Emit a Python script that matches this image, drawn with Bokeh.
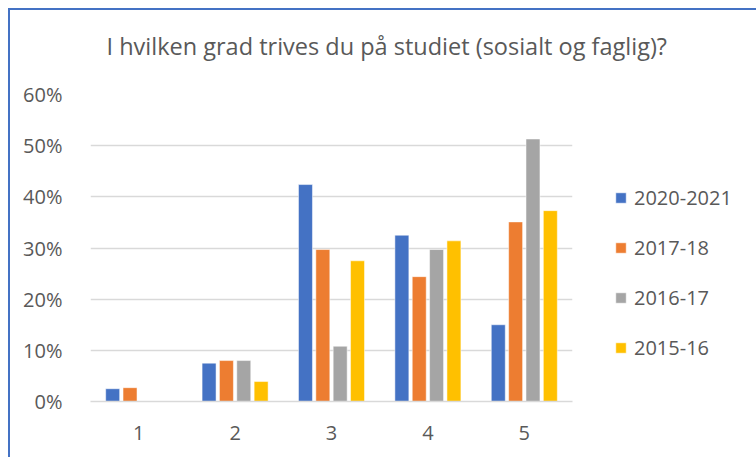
from bokeh.plotting import figure
from bokeh.models import Legend, LegendItem, NumeralTickFormatter, FixedTicker, Range1d, Title
from bokeh.embed import file_html
from bokeh.resources import INLINE

categories = [1, 2, 3, 4, 5]
series_names = ["2020-2021", "2017-18", "2016-17", "2015-16"]
v_2020_2021 = [0.025, 0.075, 0.424, 0.325, 0.150]
v_2017_18 = [0.027, 0.080, 0.297, 0.244, 0.351]
v_2016_17 = [0.0, 0.080, 0.108, 0.297, 0.513]
v_2015_16 = [0.0, 0.039, 0.275, 0.314, 0.373]
colors = ["#4472C4", "#ED7D31", "#A5A5A5", "#FFC000"]
y_ticks = [0, 0.1, 0.2, 0.3, 0.4, 0.5, 0.6]

FONT = "Open Sans"
TXT = "#595959"

p = figure(width=745, height=447, output_backend="svg", toolbar_location=None,
           x_range=Range1d(0.5, 5.5), y_range=Range1d(0, 0.6),
           min_border_left=80, min_border_right=183, min_border_top=84, min_border_bottom=56)
p.frame_width = 482
p.frame_height = 307
p.outline_line_color = None
p.background_fill_color = "white"
p.border_fill_color = "white"

data = [v_2020_2021, v_2017_18, v_2016_17, v_2015_16]
offsets = [-0.27, -0.09, 0.09, 0.27]
renderers = []
for vals, col, off in zip(data, colors, offsets):
    xs = [c + off for c in categories]
    r = p.vbar(x=xs, top=vals, width=0.145, fill_color=col, line_color="white", line_width=0.5)
    renderers.append(r)

p.yaxis.ticker = FixedTicker(ticks=y_ticks)
p.yaxis.formatter = NumeralTickFormatter(format="0%")
p.xaxis.ticker = FixedTicker(ticks=categories)
for ax in (p.xaxis, p.yaxis):
    ax.major_tick_line_color = None
    ax.minor_tick_line_color = None
    ax.major_label_text_font = FONT
    ax.major_label_text_font_size = "20px"
    ax.major_label_text_color = TXT
p.yaxis.axis_line_color = None
p.xaxis.axis_line_color = "#D9D9D9"
p.xaxis.axis_line_width = 1.5
p.yaxis.major_label_standoff = 22
p.xaxis.major_label_standoff = 18
p.xgrid.grid_line_color = None
p.ygrid.grid_line_color = "#D9D9D9"
p.ygrid.grid_line_width = 1.5

# spacer between title and frame
p.add_layout(Title(text=" ", text_font_size="1px", standoff=14), "above")
p.title = Title(text="I hvilken grad trives du på studiet (sosialt og faglig)?",
                text_font=FONT, text_font_size="23.5px", text_color=TXT,
                text_font_style="normal", align="left", offset=16, standoff=32)

legend = Legend(items=[LegendItem(label=n, renderers=[r]) for n, r in zip(series_names, renderers)],
                location=(42, 40), label_text_font=FONT, label_text_font_size="20px",
                label_text_color=TXT, glyph_height=13, glyph_width=13, label_height=26,
                spacing=23, padding=0, margin=0, border_line_color=None, label_standoff=7,
                background_fill_alpha=0)
p.add_layout(legend, "right")

p.styles = {"margin-left": "8px", "margin-top": "8px",
            "border-left": "2px solid #4472C4", "border-top": "2px solid #4472C4"}

open("out.html", "w").write(file_html(p, INLINE))
